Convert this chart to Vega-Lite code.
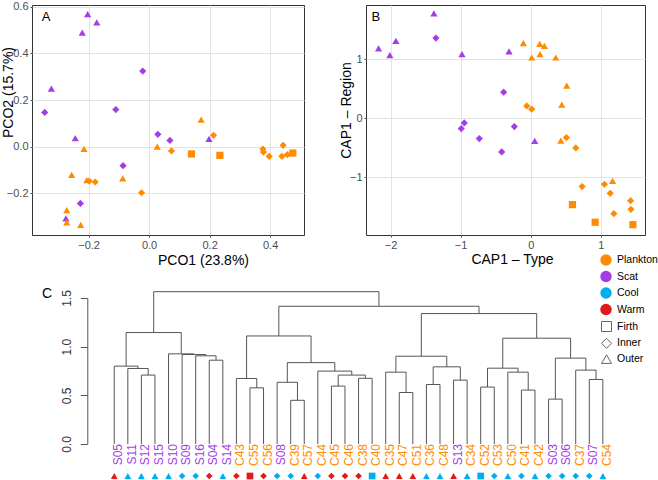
{
  "$schema": "https://vega.github.io/schema/vega-lite/v6.json",
  "background": "white",
  "padding": {"left": 0, "top": 0, "right": 0, "bottom": 0},
  "spacing": 19,
  "datasets": {
    "pco": [
      {"x": -0.203, "y": 0.568, "type": "Scat", "region": "Outer"},
      {"x": -0.173, "y": 0.533, "type": "Scat", "region": "Outer"},
      {"x": -0.221, "y": 0.489, "type": "Scat", "region": "Outer"},
      {"x": -0.323, "y": 0.249, "type": "Scat", "region": "Outer"},
      {"x": -0.345, "y": 0.147, "type": "Scat", "region": "Inner"},
      {"x": -0.021, "y": 0.324, "type": "Scat", "region": "Inner"},
      {"x": -0.110, "y": 0.159, "type": "Scat", "region": "Inner"},
      {"x": -0.244, "y": 0.037, "type": "Scat", "region": "Outer"},
      {"x": 0.029, "y": 0.053, "type": "Scat", "region": "Inner"},
      {"x": 0.069, "y": 0.027, "type": "Scat", "region": "Inner"},
      {"x": 0.198, "y": 0.034, "type": "Scat", "region": "Outer"},
      {"x": -0.086, "y": -0.081, "type": "Scat", "region": "Inner"},
      {"x": -0.227, "y": -0.243, "type": "Scat", "region": "Inner"},
      {"x": -0.275, "y": -0.307, "type": "Scat", "region": "Outer"},
      {"x": 0.172, "y": 0.116, "type": "Plankton", "region": "Outer"},
      {"x": 0.213, "y": 0.049, "type": "Plankton", "region": "Inner"},
      {"x": 0.027, "y": 0.000, "type": "Plankton", "region": "Outer"},
      {"x": 0.074, "y": -0.018, "type": "Plankton", "region": "Inner"},
      {"x": 0.140, "y": -0.031, "type": "Plankton", "region": "Firth"},
      {"x": 0.234, "y": -0.037, "type": "Plankton", "region": "Firth"},
      {"x": 0.376, "y": -0.010, "type": "Plankton", "region": "Inner"},
      {"x": 0.378, "y": -0.023, "type": "Plankton", "region": "Inner"},
      {"x": 0.397, "y": -0.041, "type": "Plankton", "region": "Inner"},
      {"x": 0.443, "y": 0.006, "type": "Plankton", "region": "Inner"},
      {"x": 0.439, "y": -0.041, "type": "Plankton", "region": "Inner"},
      {"x": 0.457, "y": -0.034, "type": "Plankton", "region": "Inner"},
      {"x": 0.475, "y": -0.027, "type": "Plankton", "region": "Firth"},
      {"x": -0.215, "y": -0.009, "type": "Plankton", "region": "Outer"},
      {"x": -0.256, "y": -0.120, "type": "Plankton", "region": "Outer"},
      {"x": -0.206, "y": -0.143, "type": "Plankton", "region": "Outer"},
      {"x": -0.198, "y": -0.147, "type": "Plankton", "region": "Inner"},
      {"x": -0.178, "y": -0.151, "type": "Plankton", "region": "Inner"},
      {"x": -0.087, "y": -0.136, "type": "Plankton", "region": "Outer"},
      {"x": -0.025, "y": -0.197, "type": "Plankton", "region": "Inner"},
      {"x": -0.272, "y": -0.271, "type": "Plankton", "region": "Outer"},
      {"x": -0.272, "y": -0.324, "type": "Plankton", "region": "Outer"},
      {"x": -0.226, "y": -0.335, "type": "Plankton", "region": "Outer"}
    ],
    "cap": [
      {"x": -1.381, "y": 1.779, "type": "Scat", "region": "Outer"},
      {"x": -1.353, "y": 1.361, "type": "Scat", "region": "Inner"},
      {"x": -2.171, "y": 1.184, "type": "Scat", "region": "Outer"},
      {"x": -1.924, "y": 1.315, "type": "Scat", "region": "Outer"},
      {"x": -2.010, "y": 1.071, "type": "Scat", "region": "Outer"},
      {"x": -0.981, "y": 1.088, "type": "Scat", "region": "Outer"},
      {"x": -0.310, "y": 1.133, "type": "Scat", "region": "Outer"},
      {"x": -0.386, "y": 0.442, "type": "Scat", "region": "Inner"},
      {"x": -0.948, "y": -0.080, "type": "Scat", "region": "Inner"},
      {"x": -0.991, "y": -0.177, "type": "Scat", "region": "Inner"},
      {"x": -0.734, "y": -0.347, "type": "Scat", "region": "Inner"},
      {"x": -0.234, "y": -0.143, "type": "Scat", "region": "Inner"},
      {"x": -0.414, "y": -0.573, "type": "Scat", "region": "Inner"},
      {"x": 0.057, "y": -0.386, "type": "Scat", "region": "Outer"},
      {"x": -0.105, "y": 1.276, "type": "Plankton", "region": "Outer"},
      {"x": 0.129, "y": 1.264, "type": "Plankton", "region": "Outer"},
      {"x": 0.195, "y": 1.230, "type": "Plankton", "region": "Outer"},
      {"x": 0.133, "y": 1.088, "type": "Plankton", "region": "Outer"},
      {"x": 0.014, "y": 1.031, "type": "Plankton", "region": "Outer"},
      {"x": 0.357, "y": 1.031, "type": "Plankton", "region": "Outer"},
      {"x": 0.514, "y": 0.555, "type": "Plankton", "region": "Outer"},
      {"x": 0.443, "y": 0.231, "type": "Plankton", "region": "Outer"},
      {"x": -0.057, "y": 0.209, "type": "Plankton", "region": "Inner"},
      {"x": 0.014, "y": 0.153, "type": "Plankton", "region": "Inner"},
      {"x": 0.429, "y": -0.381, "type": "Plankton", "region": "Outer"},
      {"x": 0.509, "y": -0.330, "type": "Plankton", "region": "Inner"},
      {"x": 0.643, "y": -0.505, "type": "Plankton", "region": "Inner"},
      {"x": 0.733, "y": -1.163, "type": "Plankton", "region": "Inner"},
      {"x": 0.595, "y": -1.469, "type": "Plankton", "region": "Firth"},
      {"x": 1.052, "y": -1.123, "type": "Plankton", "region": "Inner"},
      {"x": 1.167, "y": -1.066, "type": "Plankton", "region": "Outer"},
      {"x": 1.133, "y": -1.276, "type": "Plankton", "region": "Inner"},
      {"x": 1.186, "y": -1.622, "type": "Plankton", "region": "Inner"},
      {"x": 0.919, "y": -1.769, "type": "Plankton", "region": "Firth"},
      {"x": 1.424, "y": -1.401, "type": "Plankton", "region": "Inner"},
      {"x": 1.429, "y": -1.548, "type": "Plankton", "region": "Inner"},
      {"x": 1.457, "y": -1.809, "type": "Plankton", "region": "Firth"}
    ],
    "nodes": [
      {"x1": 3, "h1": 0, "x2": 4, "h2": 0, "h": 0.708},
      {"x1": 2, "h1": 0, "x2": 3.5, "h2": 0.708, "h": 0.776},
      {"x1": 1, "h1": 0, "x2": 2.75, "h2": 0.776, "h": 0.800},
      {"x1": 8, "h1": 0, "x2": 9, "h2": 0, "h": 0.861},
      {"x1": 7, "h1": 0, "x2": 8.5, "h2": 0.861, "h": 0.906},
      {"x1": 6, "h1": 0, "x2": 7.75, "h2": 0.906, "h": 0.919},
      {"x1": 5, "h1": 0, "x2": 6.875, "h2": 0.919, "h": 0.926},
      {"x1": 1.875, "h1": 0.800, "x2": 5.9375, "h2": 0.926, "h": 1.145},
      {"x1": 11, "h1": 0, "x2": 12, "h2": 0, "h": 0.577},
      {"x1": 10, "h1": 0, "x2": 11.5, "h2": 0.577, "h": 0.673},
      {"x1": 14, "h1": 0, "x2": 15, "h2": 0, "h": 0.449},
      {"x1": 13, "h1": 0, "x2": 14.5, "h2": 0.449, "h": 0.634},
      {"x1": 17, "h1": 0, "x2": 18, "h2": 0, "h": 0.595},
      {"x1": 19, "h1": 0, "x2": 20, "h2": 0, "h": 0.675},
      {"x1": 17.5, "h1": 0.595, "x2": 19.5, "h2": 0.675, "h": 0.708},
      {"x1": 16, "h1": 0, "x2": 18.5, "h2": 0.708, "h": 0.749},
      {"x1": 13.75, "h1": 0.634, "x2": 17.25, "h2": 0.749, "h": 0.836},
      {"x1": 10.75, "h1": 0.673, "x2": 15.5, "h2": 0.836, "h": 1.110},
      {"x1": 22, "h1": 0, "x2": 23, "h2": 0, "h": 0.529},
      {"x1": 21, "h1": 0, "x2": 22.5, "h2": 0.529, "h": 0.738},
      {"x1": 24, "h1": 0, "x2": 25, "h2": 0, "h": 0.611},
      {"x1": 26, "h1": 0, "x2": 27, "h2": 0, "h": 0.656},
      {"x1": 24.5, "h1": 0.611, "x2": 26.5, "h2": 0.656, "h": 0.793},
      {"x1": 21.75, "h1": 0.738, "x2": 25.5, "h2": 0.793, "h": 0.902},
      {"x1": 28, "h1": 0, "x2": 29, "h2": 0, "h": 0.585},
      {"x1": 31, "h1": 0, "x2": 32, "h2": 0, "h": 0.554},
      {"x1": 30, "h1": 0, "x2": 31.5, "h2": 0.554, "h": 0.738},
      {"x1": 28.5, "h1": 0.585, "x2": 30.75, "h2": 0.738, "h": 0.779},
      {"x1": 33, "h1": 0, "x2": 34, "h2": 0, "h": 0.461},
      {"x1": 36, "h1": 0, "x2": 37, "h2": 0, "h": 0.663},
      {"x1": 35, "h1": 0, "x2": 36.5, "h2": 0.663, "h": 0.759},
      {"x1": 33.5, "h1": 0.461, "x2": 35.75, "h2": 0.759, "h": 0.882},
      {"x1": 29.625, "h1": 0.779, "x2": 34.625, "h2": 0.882, "h": 1.087},
      {"x1": 23.625, "h1": 0.902, "x2": 32.125, "h2": 1.087, "h": 1.340},
      {"x1": 13.125, "h1": 1.110, "x2": 27.875, "h2": 1.340, "h": 1.415},
      {"x1": 3.906, "h1": 1.145, "x2": 20.5, "h2": 1.415, "h": 1.565}
    ],
    "leaves": [
      {"idx": 1, "leaf": "S05", "type": "Scat", "season": "Warm", "region": "Outer"},
      {"idx": 2, "leaf": "S11", "type": "Scat", "season": "Cool", "region": "Outer"},
      {"idx": 3, "leaf": "S12", "type": "Scat", "season": "Cool", "region": "Outer"},
      {"idx": 4, "leaf": "S15", "type": "Scat", "season": "Cool", "region": "Outer"},
      {"idx": 5, "leaf": "S10", "type": "Scat", "season": "Cool", "region": "Outer"},
      {"idx": 6, "leaf": "S09", "type": "Scat", "season": "Cool", "region": "Inner"},
      {"idx": 7, "leaf": "S16", "type": "Scat", "season": "Cool", "region": "Inner"},
      {"idx": 8, "leaf": "S04", "type": "Scat", "season": "Warm", "region": "Inner"},
      {"idx": 9, "leaf": "S14", "type": "Scat", "season": "Cool", "region": "Outer"},
      {"idx": 10, "leaf": "C43", "type": "Plankton", "season": "Warm", "region": "Inner"},
      {"idx": 11, "leaf": "C55", "type": "Plankton", "season": "Warm", "region": "Firth"},
      {"idx": 12, "leaf": "C56", "type": "Plankton", "season": "Warm", "region": "Inner"},
      {"idx": 13, "leaf": "S08", "type": "Scat", "season": "Cool", "region": "Inner"},
      {"idx": 14, "leaf": "C39", "type": "Plankton", "season": "Cool", "region": "Inner"},
      {"idx": 15, "leaf": "C57", "type": "Plankton", "season": "Warm", "region": "Outer"},
      {"idx": 16, "leaf": "C44", "type": "Plankton", "season": "Cool", "region": "Inner"},
      {"idx": 17, "leaf": "C45", "type": "Plankton", "season": "Warm", "region": "Inner"},
      {"idx": 18, "leaf": "C46", "type": "Plankton", "season": "Warm", "region": "Inner"},
      {"idx": 19, "leaf": "C38", "type": "Plankton", "season": "Warm", "region": "Inner"},
      {"idx": 20, "leaf": "C40", "type": "Plankton", "season": "Cool", "region": "Firth"},
      {"idx": 21, "leaf": "C35", "type": "Plankton", "season": "Warm", "region": "Outer"},
      {"idx": 22, "leaf": "C47", "type": "Plankton", "season": "Warm", "region": "Outer"},
      {"idx": 23, "leaf": "C51", "type": "Plankton", "season": "Warm", "region": "Outer"},
      {"idx": 24, "leaf": "C36", "type": "Plankton", "season": "Cool", "region": "Outer"},
      {"idx": 25, "leaf": "C48", "type": "Plankton", "season": "Cool", "region": "Outer"},
      {"idx": 26, "leaf": "S13", "type": "Scat", "season": "Warm", "region": "Outer"},
      {"idx": 27, "leaf": "C34", "type": "Plankton", "season": "Cool", "region": "Outer"},
      {"idx": 28, "leaf": "C52", "type": "Plankton", "season": "Cool", "region": "Firth"},
      {"idx": 29, "leaf": "C53", "type": "Plankton", "season": "Cool", "region": "Inner"},
      {"idx": 30, "leaf": "C50", "type": "Plankton", "season": "Cool", "region": "Outer"},
      {"idx": 31, "leaf": "C41", "type": "Plankton", "season": "Cool", "region": "Inner"},
      {"idx": 32, "leaf": "C42", "type": "Plankton", "season": "Cool", "region": "Outer"},
      {"idx": 33, "leaf": "S03", "type": "Scat", "season": "Cool", "region": "Inner"},
      {"idx": 34, "leaf": "S06", "type": "Scat", "season": "Cool", "region": "Inner"},
      {"idx": 35, "leaf": "C37", "type": "Plankton", "season": "Cool", "region": "Inner"},
      {"idx": 36, "leaf": "S07", "type": "Scat", "season": "Cool", "region": "Inner"},
      {"idx": 37, "leaf": "C54", "type": "Plankton", "season": "Cool", "region": "Outer"}
    ]
  },
  "vconcat": [
    {
      "spacing": 33,
      "hconcat": [
        {
          "width": 272,
          "height": 230,
          "view": {"stroke": "#333333", "strokeWidth": 1},
          "layer": [
            {
              "data": {"name": "pco"},
              "mark": {"type": "point", "filled": true, "opacity": 1, "size": 52},
              "encoding": {
                "x": {"field": "x", "type": "quantitative",
                  "scale": {"domain": [-0.387, 0.512], "nice": false, "zero": false},
                  "axis": {"values": [-0.2, 0, 0.2, 0.4], "format": ".1f", "title": "PCO1 (23.8%)", "titleX": 171, "titleY": 29, "titleBaseline": "alphabetic", "titleAnchor": "middle", "titleAlign": "center"}},
                "y": {"field": "y", "type": "quantitative",
                  "scale": {"domain": [-0.378, 0.607], "nice": false, "zero": false},
                  "axis": {"values": [-0.2, 0, 0.2, 0.4, 0.6], "format": ".1f", "title": "PCO2 (15.7%)", "titleAngle": 270, "titleAlign": "center", "titleBaseline": "alphabetic", "titleX": -20, "titleY": 87}},
                "color": {"field": "type", "type": "nominal",
                  "scale": {"domain": ["Plankton", "Scat", "Cool", "Warm"], "range": ["#ff8c00", "#a33ee6", "#00aeef", "#e3191c"]},
                  "legend": {"title": null, "orient": "none", "legendX": 568, "legendY": 249, "symbolType": "circle", "symbolSize": 130, "symbolStrokeWidth": 0, "symbolOpacity": 1, "rowPadding": 4.5}},
                "shape": {"field": "region", "type": "nominal",
                  "scale": {"domain": ["Firth", "Inner", "Outer"], "range": ["square", "diamond", "triangle-up"]},
                  "legend": {"title": null, "orient": "none", "legendX": 569, "legendY": 316, "symbolSize": 100, "symbolFillColor": "transparent", "symbolStrokeColor": "#666666", "symbolStrokeWidth": 1, "rowPadding": 1.8}}
              }
            },
            {
              "data": {"values": [{"panel": "A"}]},
              "mark": {"type": "text", "fontSize": 13, "align": "left", "baseline": "middle", "color": "#000"},
              "encoding": {
                "x": {"datum": -0.355},
                "y": {"datum": 0.554},
                "text": {"field": "panel"}
              }
            }
          ]
        },
        {
          "width": 279,
          "height": 230,
          "view": {"stroke": "#333333", "strokeWidth": 1},
          "layer": [
            {
              "data": {"name": "cap"},
              "mark": {"type": "point", "filled": true, "opacity": 1, "size": 52},
              "encoding": {
                "x": {"field": "x", "type": "quantitative",
                  "scale": {"domain": [-2.35, 1.63], "nice": false, "zero": false},
                  "axis": {"values": [-2, -1, 0, 1], "format": "d", "title": "CAP1 – Type", "titleX": 146, "titleY": 28, "titleBaseline": "alphabetic", "titleAnchor": "middle", "titleAlign": "center"}},
                "y": {"field": "y", "type": "quantitative",
                  "scale": {"domain": [-1.985, 1.923], "nice": false, "zero": false},
                  "axis": {"values": [-1, 0, 1], "format": "d", "title": "CAP1 – Region", "titleAngle": 270, "titleAlign": "center", "titleBaseline": "alphabetic", "titleX": -16, "titleY": 105}},
                "color": {"field": "type", "type": "nominal",
                  "scale": {"domain": ["Plankton", "Scat", "Cool", "Warm"], "range": ["#ff8c00", "#a33ee6", "#00aeef", "#e3191c"]},
                  "legend": {"title": null, "orient": "none", "legendX": 568, "legendY": 249, "symbolType": "circle", "symbolSize": 130, "symbolStrokeWidth": 0, "symbolOpacity": 1, "rowPadding": 4.5}},
                "shape": {"field": "region", "type": "nominal",
                  "scale": {"domain": ["Firth", "Inner", "Outer"], "range": ["square", "diamond", "triangle-up"]},
                  "legend": {"title": null, "orient": "none", "legendX": 569, "legendY": 316, "symbolSize": 100, "symbolFillColor": "transparent", "symbolStrokeColor": "#666666", "symbolStrokeWidth": 1, "rowPadding": 1.8}}
              }
            },
            {
              "data": {"values": [{"panel": "B"}]},
              "mark": {"type": "text", "fontSize": 13, "align": "left", "baseline": "middle", "color": "#000"},
              "encoding": {
                "x": {"datum": -2.271},
                "y": {"datum": 1.718},
                "text": {"field": "panel"}
              }
            }
          ]
        }
      ]
    },
    {
      "width": 598,
      "height": 146,
      "view": {"stroke": null},
      "layer": [
        {
          "data": {"name": "nodes"},
          "mark": {"type": "rule", "color": "#555555", "strokeWidth": 1},
          "encoding": {
            "x": {"field": "x1", "type": "quantitative", "scale": {"domain": [-5.06, 39], "nice": false, "zero": false}, "axis": null},
            "x2": {"field": "x2"},
            "y": {"field": "h", "type": "quantitative", "scale": {"domain": [0, 1.5], "nice": false, "zero": false},
              "axis": {"values": [0, 0.5, 1, 1.5], "format": ".1f", "title": null, "grid": false, "domain": true, "domainColor": "#555555", "ticks": true, "tickSize": 7, "tickColor": "#555555", "labelAngle": 270, "labelAlign": "center", "labelBaseline": "alphabetic", "labelPadding": 10, "labelFontSize": 12, "labelColor": "#333333", "offset": -55.3}}
          }
        },
        {
          "data": {"name": "nodes"},
          "mark": {"type": "rule", "color": "#555555", "strokeWidth": 1},
          "encoding": {
            "x": {"field": "x1", "type": "quantitative"},
            "y": {"field": "h1", "type": "quantitative"},
            "y2": {"field": "h"}
          }
        },
        {
          "data": {"name": "nodes"},
          "mark": {"type": "rule", "color": "#555555", "strokeWidth": 1},
          "encoding": {
            "x": {"field": "x2", "type": "quantitative"},
            "y": {"field": "h2", "type": "quantitative"},
            "y2": {"field": "h"}
          }
        },
        {
          "data": {"name": "leaves"},
          "mark": {"type": "text", "angle": 270, "align": "right", "baseline": "middle", "dy": 4, "fontSize": 12},
          "encoding": {
            "x": {"field": "idx", "type": "quantitative"},
            "y": {"datum": 0},
            "text": {"field": "leaf"},
            "color": {"field": "type", "type": "nominal",
              "scale": {"domain": ["Plankton", "Scat", "Cool", "Warm"], "range": ["#ff8c00", "#a33ee6", "#00aeef", "#e3191c"]},
              "legend": {"title": null, "orient": "none", "legendX": 568, "legendY": 249, "symbolType": "circle", "symbolSize": 130, "symbolStrokeWidth": 0, "symbolOpacity": 1, "rowPadding": 4.5}}
          }
        },
        {
          "data": {"name": "leaves"},
          "mark": {"type": "point", "filled": true, "opacity": 1, "size": 45, "yOffset": 32},
          "encoding": {
            "x": {"field": "idx", "type": "quantitative"},
            "y": {"datum": 0},
            "color": {"field": "season", "type": "nominal",
              "scale": {"domain": ["Plankton", "Scat", "Cool", "Warm"], "range": ["#ff8c00", "#a33ee6", "#00aeef", "#e3191c"]},
              "legend": {"title": null, "orient": "none", "legendX": 568, "legendY": 249, "symbolType": "circle", "symbolSize": 130, "symbolStrokeWidth": 0, "symbolOpacity": 1, "rowPadding": 4.5}},
            "shape": {"field": "region", "type": "nominal",
              "scale": {"domain": ["Firth", "Inner", "Outer"], "range": ["square", "diamond", "triangle-up"]},
              "legend": {"title": null, "orient": "none", "legendX": 569, "legendY": 316, "symbolSize": 100, "symbolFillColor": "transparent", "symbolStrokeColor": "#666666", "symbolStrokeWidth": 1, "rowPadding": 1.8}}
          }
        },
        {
          "data": {"values": [{"panel": "C"}]},
          "mark": {"type": "text", "fontSize": 14, "align": "left", "baseline": "middle", "color": "#000"},
          "encoding": {
            "x": {"datum": -4.33},
            "y": {"datum": 1.54},
            "text": {"field": "panel"}
          }
        }
      ]
    }
  ],
  "config": {
    "font": "Liberation Sans",
    "view": {"stroke": null},
    "axis": {
      "labelFont": "Liberation Sans", "labelFontSize": 11, "labelColor": "#4d4d4d",
      "titleFont": "Liberation Sans", "titleFontSize": 14, "titleFontWeight": "normal", "titleColor": "#000000",
      "gridColor": "#e3e3e3", "gridWidth": 1, "domain": false,
      "tickColor": "#4d4d4d", "tickSize": 2, "labelPadding": 2
    },
    "legend": {
      "labelFont": "Liberation Sans", "labelFontSize": 10.5, "labelColor": "#000000",
      "labelOffset": 5, "padding": 0
    }
  }
}
